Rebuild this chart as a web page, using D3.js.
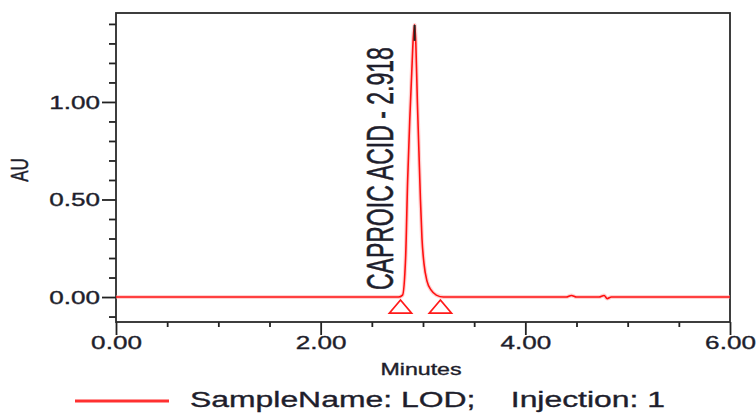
<!doctype html>
<html>
    <head>
        <meta charset="utf-8">
        <title>chromatogram</title>
        <script src="https://d3js.org/d3.v7.min.js"></script>
        <style type="text/css">
            body { margin:0; background:#fff; }
            text { font-family:"Liberation Sans", Arial, sans-serif; fill:#1e1e2c; stroke:#1e1e2c; stroke-width:0.35px; }
        </style>
    </head>
    <body>
        <svg></svg>
        <script type="text/javascript">

            var w = 756,
                h = 414,
                plotLeft = 116,
                plotRight = 730,
                plotTop = 13,
                plotBottom = 322,
                stretch = 1.45;

            // trace (minutes, AU)
            var times  = [0, 1.0, 2.0, 2.60, 2.76, 2.80, 2.83, 2.85, 2.87, 2.89, 2.905, 2.918, 2.93, 2.945, 2.96, 2.975, 2.99, 3.01, 3.04, 3.08, 3.13, 3.20, 3.6, 4.0, 4.40, 4.45, 4.50, 4.72, 4.77, 4.80, 4.84, 5.2, 6.0];
            var values = [0, 0,   0,   0,    0,    0.01, 0.2,  0.6,  0.9,  1.15, 1.33,  1.395, 1.3,  1.0,   0.75, 0.5,   0.3,  0.17, 0.08, 0.035, 0.01, 0,   0,   0,   0,    0.008, 0,    0,    0.008, -0.008, 0,  0,   0];

            var peakName = 'CAPROIC ACID';
            var peakTime = 2.918;
            var peakValue = 1.395;
            var markerTimes = [2.78, 3.17];

            var xMajor = [0, 2, 4, 6];
            var xMinor = [0.5, 1, 1.5, 2.5, 3, 3.5, 4.5, 5, 5.5];
            var yMajor = [0, 0.5, 1.0];
            var yMinor = [-0.1, 0.1, 0.2, 0.3, 0.4, 0.6, 0.7, 0.8, 0.9, 1.1, 1.2, 1.3, 1.4];

            var data = times.map(function(t, i) { return { t: t, v: values[i] }; });

            var x = d3.scaleLinear().domain([0, 6]).range([plotLeft, plotRight]);
            var y = d3.scaleLinear().domain([-0.128, 1.456]).range([plotBottom, plotTop]);

            var svg = d3.select('svg')
                .attr('width', w)
                .attr('height', h);

            // minor ticks
            svg.append('g')
                .attr('transform', 'translate(0,' + plotBottom + ')')
                .call(d3.axisBottom(x).tickValues(xMinor).tickSize(5).tickSizeOuter(0).tickFormat(''));
            svg.append('g')
                .attr('transform', 'translate(' + plotLeft + ',0)')
                .call(d3.axisLeft(y).tickValues(yMinor).tickSize(7).tickSizeOuter(0).tickFormat(''));

            // major ticks with labels
            var xAxis = svg.append('g')
                .attr('transform', 'translate(0,' + plotBottom + ')')
                .call(d3.axisBottom(x).tickValues(xMajor).tickSize(13).tickSizeOuter(0).tickFormat(d3.format('.2f')));
            xAxis.selectAll('text')
                .attr('y', 0).attr('dy', 0)
                .attr('transform', 'translate(0,27) scale(' + stretch + ',1)')
                .style('font-size', '18px');

            var yAxis = svg.append('g')
                .attr('transform', 'translate(' + plotLeft + ',0)')
                .call(d3.axisLeft(y).tickValues(yMajor).tickSize(14).tickSizeOuter(0).tickFormat(d3.format('.2f')));
            yAxis.selectAll('text')
                .attr('x', 0).attr('dy', 0)
                .attr('transform', 'translate(-16,6.5) scale(' + stretch + ',1)')
                .style('font-size', '18px');

            svg.selectAll('.domain').remove();
            svg.selectAll('.tick line').attr('stroke', '#222').attr('stroke-width', 1.8);

            // frame
            svg.append('rect')
                .attr('x', plotLeft).attr('y', plotTop)
                .attr('width', plotRight - plotLeft).attr('height', plotBottom - plotTop)
                .attr('fill', 'none')
                .attr('stroke', '#2a2a2a')
                .attr('stroke-width', 1.8);

            var line = d3.line()
                .x(function(d) { return x(d.t); })
                .y(function(d) { return y(d.v); })
                .curve(d3.curveMonotoneX);

            svg.append('path')
                .datum(data)
                .attr('d', line)
                .attr('fill', 'none')
                .attr('stroke', '#ff9999')
                .attr('stroke-opacity', 0.45)
                .attr('stroke-width', 4);

            svg.append('path')
                .datum(data)
                .attr('d', line)
                .attr('fill', 'none')
                .attr('stroke', '#ff1010')
                .attr('stroke-width', 1.6);

            // apex mark
            svg.append('line')
                .attr('x1', x(peakTime)).attr('x2', x(peakTime))
                .attr('y1', y(peakValue)).attr('y2', y(peakValue) + 16)
                .attr('stroke', '#222')
                .attr('stroke-width', 2);

            // integration markers
            svg.selectAll('.marker')
                .data(markerTimes)
                .enter()
                .append('path')
                .attr('class', 'marker')
                .attr('d', function(d) {
                    var cx = x(d), cy = y(0) + 3;
                    return 'M' + cx + ',' + cy + 'L' + (cx + 11) + ',' + (cy + 13) + 'L' + (cx - 11) + ',' + (cy + 13) + 'Z';
                })
                .attr('fill', 'none')
                .attr('stroke', '#ff1a1a')
                .attr('stroke-width', 1.8);

            // peak label
            svg.append('text')
                .attr('transform', 'translate(' + (x(peakTime) - 22) + ',' + 290 + ') scale(1.6,1) rotate(-90)')
                .style('font-size', '23px')
                .text(peakName + ' - ' + peakTime.toFixed(3));

            // axis titles
            svg.append('text')
                .attr('transform', 'translate(' + ((plotLeft + plotRight) / 2 - 2) + ',375) scale(' + stretch + ',1)')
                .attr('text-anchor', 'middle')
                .style('font-size', '16px')
                .text('Minutes');

            svg.append('text')
                .attr('transform', 'translate(28,170) scale(' + stretch + ',1) rotate(-90)')
                .attr('text-anchor', 'middle')
                .style('font-size', '17px')
                .text('AU');

            // legend
            svg.append('line')
                .attr('x1', 75).attr('x2', 169)
                .attr('y1', 401).attr('y2', 401)
                .attr('stroke', '#ff3030')
                .attr('stroke-width', 3);

            svg.append('text')
                .attr('transform', 'translate(190,407) scale(' + stretch + ',1)')
                .style('font-size', '22px')
                .attr('xml:space', 'preserve')
                .text('SampleName: LOD;    Injection: 1');

        </script>
    </body>
</html>
